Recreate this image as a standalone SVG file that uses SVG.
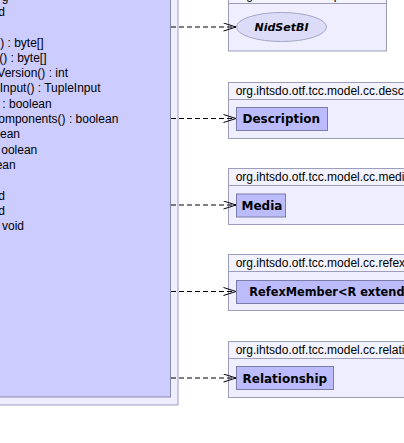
<svg xmlns="http://www.w3.org/2000/svg" width="404" height="443" viewBox="0 0 404 443">
<style>
.pkg{fill:#eeeeff;stroke:#9c9cbc;stroke-width:1}
.pkghead{fill:#f3f3ff;stroke:#9c9cbc;stroke-width:1}
.cls{fill:#ccccff;stroke:#8888aa;stroke-width:1}
.cbox{fill:#bcbcfc;stroke:#7c7ca8;stroke-width:1}
.iface{fill:#dcdcf8;stroke:#a4a4c8;stroke-width:1}
.mem{font-family:"Liberation Sans",Arial,sans-serif;font-size:12px;fill:#000;text-anchor:end}
.plabel{font-family:"Liberation Sans",Arial,sans-serif;font-size:12px;fill:#000}
.cname{font-family:"DejaVu Sans",sans-serif;font-size:12px;font-weight:bold;fill:#000}
.iname{font-family:"DejaVu Sans",sans-serif;font-size:11px;font-weight:bold;font-style:italic;fill:#000;text-anchor:middle}
.dep{fill:none;stroke:#000;stroke-width:1;stroke-dasharray:5,3}
</style>
<defs>
<marker id="vee" markerUnits="userSpaceOnUse" markerWidth="14" markerHeight="10" refX="13" refY="4.5" orient="auto">
<path d="M0.5,0.5 L13,4.5 L0.5,8.5" fill="none" stroke="#000" stroke-width="1"/>
</marker>
</defs>

<g id="main-package">
<rect class="pkg" x="-10.5" y="-10.5" width="188.5" height="415.5"/>
</g>
<g id="main-class">
<rect class="cls" x="-10.5" y="-10.5" width="181" height="407.5"/>
<text class="mem" x="8.5" y="0.6">g</text>
<text class="mem" x="5" y="15.9">d</text>
<text class="mem" x="43.5" y="46.5">) : byte[]</text>
<text class="mem" x="46.5" y="61.8">() : byte[]</text>
<text class="mem" x="68" y="77.1">Version() : int</text>
<text class="mem" x="100.5" y="92.4">Input() : TupleInput</text>
<text class="mem" x="51.7" y="107.7">: boolean</text>
<text class="mem" x="118.3" y="123">omponents() : boolean</text>
<text class="mem" x="20" y="138.3">ean</text>
<text class="mem" x="37.3" y="153.6">oolean</text>
<text class="mem" x="15.7" y="168.9">ean</text>
<text class="mem" x="5" y="199.5">d</text>
<text class="mem" x="5" y="214.8">d</text>
<text class="mem" x="24" y="230.1">void</text>
</g>

<g id="pkg-nid">
<rect class="pkghead" x="228.5" y="-13.5" width="158" height="17"/>
<rect class="pkg" x="228.5" y="3.5" width="158" height="47.5"/>
<text class="plabel" x="235.7" y="-1">org.ihtsdo.otf.tcc.api.nid</text>
</g>
<g id="NidSetBI">
<ellipse class="iface" cx="281.5" cy="27" rx="45" ry="14.5"/>
<text class="iname" x="281.5" y="31">NidSetBI</text>
</g>

<g id="pkg-description">
<rect class="pkghead" x="228.5" y="82.5" width="200" height="17"/>
<rect class="pkg" x="228.5" y="99.5" width="200" height="39"/>
<text class="plabel" x="235.7" y="94.5">org.ihtsdo.otf.tcc.model.cc.description</text>
</g>
<g id="Description">
<rect class="cbox" x="236.5" y="107.5" width="91" height="23"/>
<text class="cname" x="242.5" y="123">Description</text>
</g>

<g id="pkg-media">
<rect class="pkghead" x="228.5" y="168.5" width="200" height="17"/>
<rect class="pkg" x="228.5" y="185.5" width="200" height="39"/>
<text class="plabel" x="235.7" y="180.5">org.ihtsdo.otf.tcc.model.cc.media</text>
</g>
<g id="Media">
<rect class="cbox" x="236.5" y="194" width="49" height="23"/>
<text class="cname" x="241.5" y="209.5">Media</text>
</g>

<g id="pkg-refex">
<rect class="pkghead" x="228.5" y="254.5" width="200" height="17"/>
<rect class="pkg" x="228.5" y="271.5" width="200" height="39"/>
<text class="plabel" x="235.7" y="266.5">org.ihtsdo.otf.tcc.model.cc.refex</text>
</g>
<g id="RefexMember">
<rect class="cbox" x="236.5" y="280.5" width="200" height="23"/>
<text class="cname" x="249.3" y="296" textLength="162" lengthAdjust="spacingAndGlyphs">RefexMember&lt;R extends</text>
</g>

<g id="pkg-relationship">
<rect class="pkghead" x="228.5" y="341.5" width="200" height="17"/>
<rect class="pkg" x="228.5" y="358.5" width="200" height="39"/>
<text class="plabel" x="235.7" y="353.5">org.ihtsdo.otf.tcc.model.cc.relationship</text>
</g>
<g id="Relationship">
<rect class="cbox" x="236.5" y="366.5" width="97" height="23"/>
<text class="cname" x="242.5" y="382.5">Relationship</text>
</g>

<g id="connectors">
<line class="dep" x1="171" y1="27" x2="236" y2="27" marker-end="url(#vee)"/>
<line class="dep" x1="171" y1="118.5" x2="236" y2="118.5" marker-end="url(#vee)"/>
<line class="dep" x1="171" y1="205" x2="236" y2="205" marker-end="url(#vee)"/>
<line class="dep" x1="171" y1="291.5" x2="236" y2="291.5" marker-end="url(#vee)"/>
<line class="dep" x1="171" y1="378" x2="236" y2="378" marker-end="url(#vee)"/>
</g>
</svg>
